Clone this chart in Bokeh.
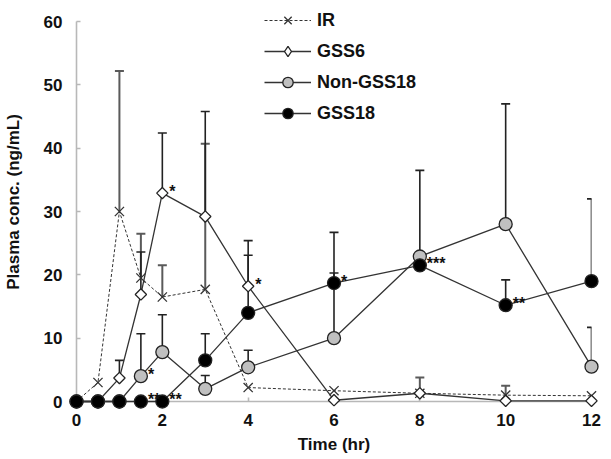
import numpy as np
from bokeh.plotting import figure
from bokeh.models import (ColumnDataSource, Whisker, TeeHead, Legend, LegendItem,
                          Range1d, FixedTicker)
from bokeh.core.properties import value
from bokeh.embed import file_html
from bokeh.resources import INLINE

# ---- data ----
time = [0, 0.5, 1, 1.5, 2, 3, 4, 6, 8, 10, 12]

ir       = [0, 3.0, 30.0, 19.5, 16.5, 17.7, 2.2, 1.7, 1.3, 1.0, 0.9]
ir_sd    = [0, 0, 22.2, 7.0, 5.0, 23.0, 0, 0, 2.5, 1.5, 0]

gss6     = [0, 0, 3.7, 16.9, 32.9, 29.2, 18.2, 0.2, 1.3, 0.1, 0.1]
gss6_sd  = [0, 0, 2.8, 6.7, 9.5, 16.6, 7.2, 0, 0, 0, 0]

non18    = [0, 0, 0, 4.0, 7.8, 2.0, 5.4, 10.0, 22.9, 28.0, 5.5]
non18_sd = [0, 0, 0, 6.7, 5.9, 2.1, 2.7, 16.7, 13.6, 19.0, 6.2]

gss18    = [0, 0, 0, 0, 0, 6.5, 14.0, 18.7, 21.5, 15.2, 19.0]
gss18_sd = [0, 0, 0, 0, 0, 4.2, 9.1, 1.6, 0, 4.0, 13.0]

sig_x    = [2, 1.5, 1.5, 2, 4, 6, 8, 10]
sig_y    = [32.9, 4.0, 0, 0, 18.2, 18.7, 21.5, 15.2]
sig_text = ["*", "*", "**", "**", "*", "*", "***", "**"]

x_ticks = [0, 2, 4, 6, 8, 10, 12]
y_ticks = [0, 10, 20, 30, 40, 50, 60]

FONT = "Liberation Sans"

p = figure(width=611, height=459, x_range=Range1d(0, 12), y_range=Range1d(0, 63),
           output_backend="svg", toolbar_location=None,
           min_border_left=75, min_border_right=20, min_border_top=2,
           min_border_bottom=58)
p.grid.visible = False
p.outline_line_color = None
p.background_fill_color = "white"
p.border_fill_color = "white"

for ax in (p.xaxis[0], p.yaxis[0]):
    ax.axis_line_color = "#b8b8b8"
    ax.axis_line_width = 1.6
    ax.major_tick_line_color = "#b8b8b8"
    ax.major_tick_line_width = 1.6
    ax.major_tick_in = 4
    ax.major_tick_out = 0
    ax.minor_tick_line_color = None
    ax.major_label_text_font = FONT
    ax.major_label_text_font_style = "bold"
    ax.major_label_text_font_size = "17px"
    ax.major_label_text_color = "#111111"
    ax.axis_label_text_font = FONT
    ax.axis_label_text_font_style = "bold"
    ax.axis_label_text_font_size = "17px"
    ax.axis_label_text_color = "#111111"

p.xaxis.ticker = FixedTicker(ticks=x_ticks)
p.yaxis.ticker = FixedTicker(ticks=y_ticks)
p.yaxis.bounds = (0, 60)
p.xaxis.axis_label = "Time (hr)"
p.yaxis.axis_label = "Plasma conc. (ng/mL)"
p.xaxis.major_label_standoff = 12
p.yaxis.major_label_standoff = 14
p.xaxis.axis_label_standoff = 6
p.yaxis.axis_label_standoff = 18

series = [
    dict(name="IR", y=ir, sd=ir_sd, marker="x", size=13, angle=0.0, fill="white",
         line_dash="3 2", lw=1.0, err_color="#5a5a5a", err_w=2.0, legend_marker="x"),
    dict(name="GSS6", y=gss6, sd=gss6_sd, marker="square", size=8, angle=np.pi / 4,
         fill="white", line_dash="solid", lw=1.3, err_color="#222222", err_w=1.6,
         legend_marker="diamond"),
    dict(name="Non-GSS18", y=non18, sd=non18_sd, marker="circle", size=13, angle=0.0,
         fill="#c0c0c0", line_dash="solid", lw=1.3, err_color="#222222", err_w=1.6,
         legend_marker="circle"),
    dict(name="GSS18", y=gss18, sd=gss18_sd, marker="circle", size=13, angle=0.0,
         fill="#000000", line_dash="solid", lw=1.3, err_color="#222222", err_w=1.6,
         legend_marker="circle"),
]

items = []
for s in series:
    xs = np.array(time, dtype=float)
    ys = np.array(s["y"], dtype=float)
    sds = np.array(s["sd"], dtype=float)
    m = sds > 0
    esrc = ColumnDataSource(dict(x=xs[m], lo=ys[m], hi=ys[m] + sds[m]))
    w = Whisker(base="x", lower="lo", upper="hi", source=esrc, dimension="height",
                line_color=s["err_color"], line_width=s["err_w"],
                upper_head=TeeHead(size=9, line_color=s["err_color"], line_width=s["err_w"]),
                lower_head=None)
    p.add_layout(w)

    src = ColumnDataSource(dict(x=xs, y=ys))
    lr = p.line("x", "y", source=src, line_color="#333333", line_width=s["lw"],
                line_dash=s["line_dash"], level="annotation")
    if s["marker"] == "x":
        sr = p.scatter("x", "y", source=src, marker="x", size=s["size"],
                       line_color="#333333", line_width=1.3, level="annotation")
        leg_r = sr
    else:
        sr = p.scatter("x", "y", source=src, marker=s["marker"], size=s["size"],
                       angle=s["angle"], fill_color=s["fill"], line_color="#222222",
                       line_width=1.3, level="annotation")
        # legend-only swatch: a single undefined (NaN) point, so nothing shows in the plot
        dummy = ColumnDataSource(dict(x=[np.nan], y=[np.nan]))
        leg_r = p.scatter("x", "y", source=dummy, marker=s["legend_marker"],
                          size=s["size"], fill_color=s["fill"],
                          line_color="#222222", line_width=1.3, level="annotation")
    items.append(LegendItem(label=s["name"], renderers=[lr, leg_r]))

sig_src = ColumnDataSource(dict(x=sig_x, y=sig_y, t=sig_text))
p.text("x", "y", text="t", source=sig_src, x_offset=7, y_offset=-2,
       text_font=value(FONT), text_font_style="bold", text_font_size="16px",
       text_color="#111111", text_align="left", text_baseline="alphabetic",
       level="annotation")

legend = Legend(items=items, location=(188, 275), orientation="vertical",
                glyph_width=47, glyph_height=26, label_height=20, spacing=5,
                label_standoff=6, padding=0, margin=0,
                border_line_color=None, background_fill_alpha=0.0,
                label_text_font=FONT, label_text_font_style="bold",
                label_text_font_size="18px", label_text_color="#111111")
p.add_layout(legend, "center")

open("out.html", "w").write(file_html(p, INLINE))
